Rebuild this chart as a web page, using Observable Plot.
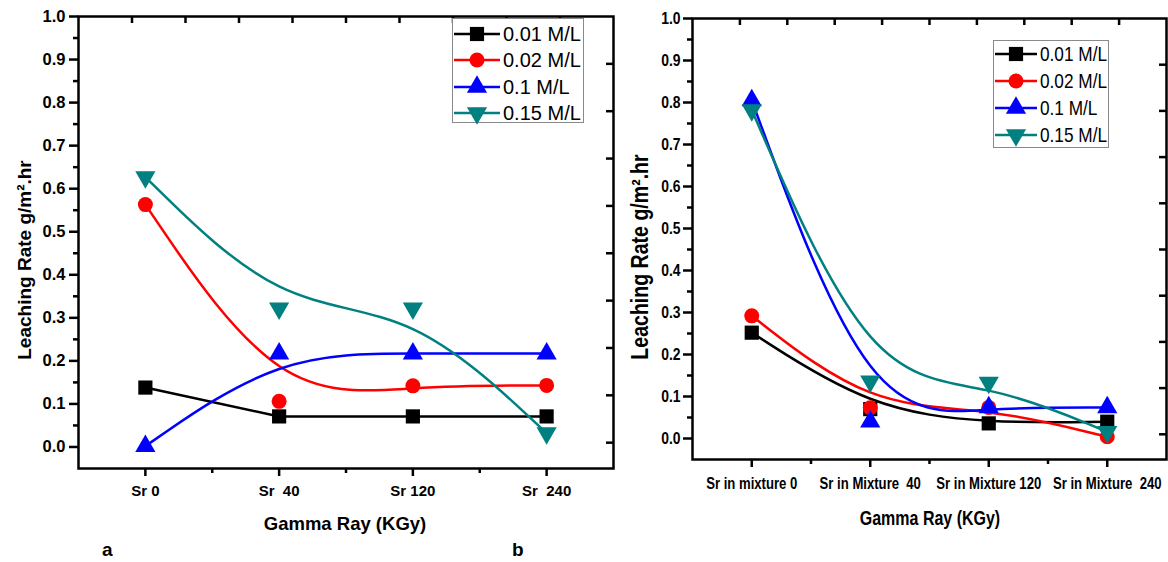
<!DOCTYPE html>
<html><head><meta charset="utf-8">
<script src="https://cdn.jsdelivr.net/npm/d3@7"></script>
<script src="https://cdn.jsdelivr.net/npm/@observablehq/plot@0.6"></script>
<style>
body{margin:0;background:#fff;}
#wrap{position:relative;width:1168px;height:562px;overflow:hidden;font-family:"Liberation Sans",Arial,sans-serif;background:#fff;}
.abs{position:absolute;white-space:pre;color:#000;}
svg text{white-space:pre;}
.legend{position:absolute;border:1px solid #8a8a8a;background:#fff;box-sizing:border-box;}
.legrow{position:absolute;left:0;display:flex;align-items:center;white-space:nowrap;}
</style></head><body><div id="wrap"></div>
<script>
// ---- data ----
const seriesNames = ["0.01 M/L", "0.02 M/L", "0.1 M/L", "0.15 M/L"];
const colors = ["#000000", "#ff0000", "#0000ff", "#008080"];
const categoriesA = ["Sr 0", "Sr  40", "Sr 120", "Sr  240"];
const categoriesB = ["Sr in mixture 0", "Sr in Mixture  40", "Sr in Mixture 120", "Sr in Mixture  240"];
// panel a
const a001 = [0.138, 0.071, 0.071, 0.071];
const a002 = [0.563, 0.106, 0.142, 0.143];
const a010 = [0.002, 0.217, 0.217, 0.217];
const a015 = [0.627, 0.322, 0.322, 0.032];
// panel b
const b001 = [0.252, 0.070, 0.036, 0.040];
const b002 = [0.292, 0.073, 0.074, 0.004];
const b010 = [0.805, 0.040, 0.074, 0.074];
const b015 = [0.782, 0.136, 0.133, 0.016];
// ticks
const yTicks = [0.0, 0.1, 0.2, 0.3, 0.4, 0.5, 0.6, 0.7, 0.8, 0.9, 1.0];
const yMinor = [0.05, 0.15, 0.25, 0.35, 0.45, 0.55, 0.65, 0.75, 0.85, 0.95];
const xMajor = [0, 1, 2, 3];
const xMinor = [0.5, 1.5, 2.5];
const topTicks = [-0.1, 0.3, 0.7, 1.1, 1.5, 1.9, 2.3, 2.7, 3.1];
const rightTicks = [0.01, 0.12, 0.23, 0.34, 0.45, 0.56, 0.67, 0.78, 0.89];
const yTitle = "Leaching Rate g/m\u00b2.hr";
const xTitle = "Gamma Ray (KGy)";
const NARROW = 0.82;

// ---- symbols ----
const triangleDown = {
  draw(context, size) {
    const y = -Math.sqrt(size / (Math.sqrt(3) * 3));
    context.moveTo(0, -y * 2);
    context.lineTo(-Math.sqrt(3) * y, y);
    context.lineTo(Math.sqrt(3) * y, y);
    context.closePath();
  }
};
const symbols = [d3.symbolSquare, d3.symbolCircle, d3.symbolTriangle, triangleDown];
const radii = [8, 7.5, 7.5, 7.5];

function panel(o) {
  const marks = [
    Plot.axisY({ticks: yTicks, tickSize: 9, tickPadding: o.yPad, tickFormat: d => d.toFixed(1),
      fontSize: o.yFont, fontWeight: "bold", strokeWidth: 2.5, label: null}),
    Plot.axisY({ticks: yMinor, tickSize: 5, tickFormat: () => "", strokeWidth: 2.5, label: null}),
    Plot.axisX({ticks: xMajor, tickSize: 8, tickPadding: o.xPad, tickFormat: i => o.cats[i],
      fontSize: o.xFont, fontWeight: "bold", strokeWidth: 2.5, label: null}),
    Plot.axisX({ticks: xMinor, tickSize: 5, tickFormat: () => "", strokeWidth: 2.5, label: null}),
    Plot.axisX({anchor: "top", ticks: topTicks, tickSize: -6, tickFormat: () => "", strokeWidth: 2.5, label: null}),
    Plot.axisY({anchor: "right", ticks: rightTicks, tickSize: -8, tickFormat: () => "", strokeWidth: 2.5, label: null}),
    Plot.frame({stroke: "black", strokeWidth: 2.5})
  ];
  o.vals.forEach((arr, s) => {
    const d = arr.map((v, i) => ({i, v}));
    marks.push(Plot.line(d, {x: "i", y: "v", stroke: colors[s], strokeWidth: 2.5, curve: o.curves[s]}));
    marks.push(Plot.dot(d, {x: "i", y: "v", fill: colors[s], stroke: "none", symbol: symbols[s], r: radii[s]}));
  });
  return Plot.plot({
    width: o.width, height: o.height,
    marginLeft: o.mL, marginRight: o.mR, marginTop: o.mT, marginBottom: o.mB,
    x: {domain: [-0.5, 3.5]}, y: {domain: [-0.05, 1.0]},
    style: {fontFamily: "'Liberation Sans', Arial, sans-serif", background: "transparent", overflow: "visible", color: "#000"},
    marks
  });
}

// condense svg texts horizontally (Arial Narrow look)
function narrowTexts(svg, k) {
  svg.querySelectorAll("text").forEach(t => {
    const x = +(t.getAttribute("x") || 0);
    const tr = t.getAttribute("transform") || "";
    t.setAttribute("x", 0);
    t.setAttribute("transform", `${tr} translate(${x},0) scale(${k},1)`);
    t.querySelectorAll("tspan[x]").forEach(ts => ts.setAttribute("x", 0));
  });
}

const wrap = document.getElementById("wrap");

const pa = panel({cats: categoriesA, vals: [a001, a002, a010, a015], curves: ["linear", "basis", "basis", "basis"],
  width: 620, height: 562, mL: 78, mR: 7, mT: 16, mB: 94, yPad: 4, xPad: 9, yFont: 16.5, xFont: 15});
pa.style.position = "absolute"; pa.style.left = "0px"; pa.style.top = "0px";
wrap.appendChild(pa);

const pb = panel({cats: categoriesB, vals: [b001, b002, b010, b015], curves: ["basis", "basis", "basis", "basis"],
  width: 548, height: 562, mL: 72, mR: 2, mT: 18, mB: 103, yPad: 3, xPad: 10, yFont: 17, xFont: 16});
pb.style.position = "absolute"; pb.style.left = "620px"; pb.style.top = "0px";
wrap.appendChild(pb);
narrowTexts(pb, NARROW);

// ---- titles ----
function addText(txt, css) {
  const el = document.createElement("div");
  el.className = "abs";
  el.textContent = txt;
  Object.assign(el.style, css);
  wrap.appendChild(el);
  return el;
}
addText(yTitle, {left: "25px", top: "260px", fontSize: "19px", fontWeight: "bold",
  transform: "translate(-50%,-50%) rotate(-90deg)"});
addText(yTitle, {left: "640px", top: "257px", fontSize: "23px", fontWeight: "bold",
  transform: `translate(-50%,-50%) rotate(-90deg) scaleX(${NARROW + 0.03})`});
addText(xTitle, {left: "345px", top: "524px", fontSize: "18.5px", fontWeight: "bold", transform: "translate(-50%,-50%)"});
addText(xTitle, {left: "930px", top: "518px", fontSize: "19.5px", fontWeight: "bold",
  transform: `translate(-50%,-50%) scaleX(${NARROW})`});
addText("a", {left: "102px", top: "550px", fontSize: "19px", fontWeight: "bold", transform: "translate(0,-50%)"});
addText("b", {left: "512px", top: "550px", fontSize: "19px", fontWeight: "bold", transform: "translate(0,-50%)"});

// ---- legends ----
function legend(o) {
  const box = document.createElement("div");
  box.className = "legend";
  Object.assign(box.style, {left: o.x + "px", top: o.y + "px", width: o.w + "px", height: o.h + "px"});
  seriesNames.forEach((name, s) => {
    const row = document.createElement("div");
    row.className = "legrow";
    row.style.top = (o.rowTop + s * o.rowStep - 12) + "px";
    row.style.height = "24px";
    const sw = d3.create("svg").attr("width", o.sw).attr("height", 24).style("display", "block");
    sw.append("line").attr("x1", 1).attr("x2", o.sw - 1).attr("y1", 12).attr("y2", 12)
      .attr("stroke", colors[s]).attr("stroke-width", 2.5);
    sw.append("path").attr("transform", `translate(${o.sw / 2},12)`)
      .attr("d", d3.symbol(symbols[s], Math.PI * radii[s] * radii[s])()).attr("fill", colors[s]);
    row.appendChild(sw.node());
    const t = document.createElement("span");
    t.textContent = name;
    Object.assign(t.style, {fontSize: o.fs + "px", marginLeft: "2px", lineHeight: "24px",
      display: "inline-block", transform: `scaleX(${o.k})`, transformOrigin: "0 50%"});
    row.appendChild(t);
    box.appendChild(row);
  });
  wrap.appendChild(box);
}
legend({x: 452, y: 18, w: 132, h: 105, rowTop: 15, rowStep: 26.3, sw: 48, fs: 20, k: 1});
legend({x: 993, y: 40, w: 116, h: 108, rowTop: 13, rowStep: 27, sw: 44, fs: 21, k: NARROW});
</script></body></html>
